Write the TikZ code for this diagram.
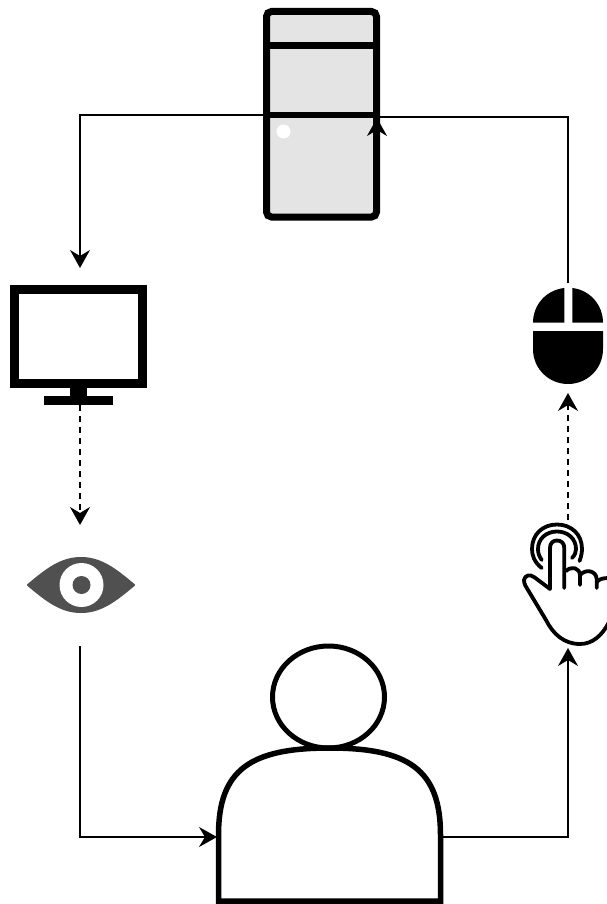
\documentclass[tikz,border=0pt]{standalone}
\usepackage{xcolor}
\usetikzlibrary{arrows.meta}
\definecolor{casegray}{HTML}{E4E4E4}
\definecolor{eyegray}{HTML}{505050}

\begin{document}
\begin{tikzpicture}[x=1pt,y=-1pt,
    iconbox/.style={inner sep=0pt,outer sep=0pt},
    conn/.style={black,line width=1.4pt,-{Stealth[length=18pt,width=20pt,inset=6pt]}},
    dashconn/.style={conn,dash pattern=on 6pt off 5pt}]
\useasboundingbox (0,0) rectangle (607,904);
\begin{scope}

    \node[iconbox,minimum width=117pt,minimum height=212pt] (server) at (321.5,115) {};
    \node[iconbox,minimum width=140pt,minimum height=137pt] (monitor) at (80,336.5) {};
    \node[iconbox,minimum width=110pt,minimum height=121pt] (eye) at (80,585.5) {};
    \node[iconbox,minimum width=225pt,minimum height=132pt] (person) at (329.5,837) {};
    \node[iconbox,minimum width=78pt,minimum height=128pt] (hand) at (568,584) {};
    \node[iconbox,minimum width=72pt,minimum height=110pt] (mouse) at (568,338) {};
    \coordinate (serverport) at (377,137);
    \coordinate (servertip) at (377,118);
    \coordinate (serverright) at (380,117);

    \draw[fill=casegray,line width=7pt,rounded corners=5pt] (266.5,11.5) rectangle (376.5,217);
    \draw[line width=6.5pt] (266.5,45.7) -- (376.5,45.7);
    \draw[line width=6.5pt] (266.5,115) -- (376.5,115);
    \fill[white] (283.5,131.5) circle(7);

    \draw[fill=white,line width=9pt] (14,289) rectangle (142.3,383);
    \fill[black] (70,387) rectangle (86.7,397);
    \fill[black] (44,396) rectangle (112.7,404.5);

    \fill[eyegray,draw=eyegray,line width=2pt,line join=round] (28,585)
        .. controls (48,568) and (62,558) .. (81,558)
        .. controls (100,558) and (114,568) .. (134,585)
        .. controls (114,602) and (100,612) .. (81,612)
        .. controls (62,612) and (48,602) .. (28,585) -- cycle;
    \fill[white] (81.5,585) circle(22);
    \fill[eyegray] (81.5,585) circle(9);

    \draw[fill=white,line width=5pt] (328.5,697) ellipse(56 and 51);
    \draw[fill=white,line width=5.5pt] (218.5,901) -- (218.5,835)
        .. controls (218.5,770) and (250,748) .. (329.5,748)
        .. controls (409,748) and (440.5,770) .. (440.5,835)
        -- (440.5,901) -- cycle;

    \fill[black] (564.3,288) .. controls (546,290) and (533,305) .. (533,322.7)
        -- (564.3,322.7) -- cycle;
    \fill[black] (572.3,288) .. controls (590,290) and (603,305) .. (603,322.7)
        -- (572.3,322.7) -- cycle;
    \fill[black] (533,331) -- (603,331) -- (603,349)
        .. controls (603,369) and (587,384) .. (568,384)
        .. controls (549,384) and (533,369) .. (533,349) -- cycle;

    \begin{scope}[line width=3.8pt,line cap=round,line join=round]
    \draw (541.7,568) .. controls (534,562) and (532,555) .. (532,549)
        .. controls (532,534) and (543,524.5) .. (557,524.5)
        .. controls (571,524.5) and (582,534) .. (582,549)
        .. controls (582,553) and (581,557) .. (579.5,561);
    \draw (541.7,560) .. controls (539,556) and (538,553) .. (538,549)
        .. controls (538,539) and (546,531.5) .. (557,531.5)
        .. controls (568,531.5) and (576,539) .. (576,549)
        .. controls (576,552) and (575,555) .. (572,558);
    \draw (550,589) -- (550,548) .. controls (550,543) and (553,540.5) .. (557,540.5)
        .. controls (561,540.5) and (564.3,543) .. (564.3,548) -- (564.3,588);
    \draw (550,589) -- (534,577) .. controls (530,574) and (525,575) .. (524,580)
        .. controls (524,584) and (526,587) .. (528,590)
        -- (546,620) .. controls (553,634) and (564,644) .. (580,644)
        .. controls (592,644) and (602,636) .. (609,622);
    \draw (566,571) .. controls (571,566) and (580,567) .. (580,576) -- (580,585);
    \draw (580,575) .. controls (585,569) and (596,570) .. (596.7,579) -- (596.7,588);
    \draw (597,582) .. controls (599,579) and (603,578) .. (609,578);
    \end{scope}

    \draw[conn] (server.west) -| (monitor.north);
    \draw[dashconn] (monitor.south) -- (eye.north);
    \draw[conn] (eye.south) |- (person.west);
    \draw[conn] (person.east) -| (hand.south);
    \draw[dashconn] (hand.north) -- (mouse.south);
    \draw[line width=1.4pt] (mouse.north) |- (serverright);
    \draw[conn] (serverport) -- (servertip);
\end{scope}
\end{tikzpicture}
\end{document}
